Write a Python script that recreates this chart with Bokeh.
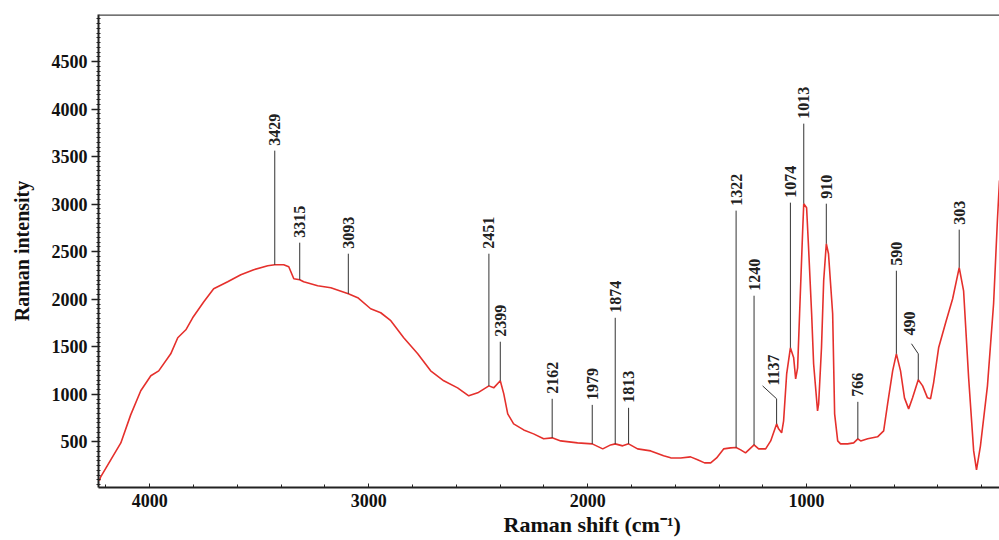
import numpy as np
from bokeh.plotting import figure
from bokeh.models import Range1d, SingleIntervalTicker, ColumnDataSource, Span, Title
from bokeh.core.properties import value
from bokeh.embed import file_html
from bokeh.resources import INLINE

# Raman spectrum (wavenumber in cm-1, intensity)
spec_wn = [4230, 4224, 4178, 4132, 4087, 4041, 3995, 3959, 3904, 3872, 3835, 3804, 3753, 3708,
           3644, 3584, 3525, 3461, 3429, 3388, 3365, 3342, 3315, 3297, 3233, 3173, 3093, 3050,
           2991, 2945, 2899, 2840, 2776, 2717, 2657, 2594, 2543, 2502, 2451, 2429, 2399, 2383,
           2365, 2338, 2292, 2247, 2201, 2162, 2123, 2046, 1979, 1931, 1895, 1874, 1840, 1813,
           1772, 1712, 1653, 1621, 1575, 1530, 1498, 1466, 1438, 1411, 1379, 1347, 1322, 1301,
           1279, 1240, 1219, 1187, 1164, 1137, 1128, 1114, 1105, 1091, 1074, 1059, 1050, 1041,
           1032, 1018, 1013, 1000, 991, 977, 968, 950, 945, 932, 922, 910, 900, 881, 872, 858,
           845, 813, 785, 766, 753, 721, 676, 648, 630, 607, 590, 571, 553, 534, 516, 490, 470,
           448, 434, 420, 397, 365, 333, 303, 283, 260, 237, 224, 206, 174, 146, 128, 119]
spec_int = [90, 132, 311, 489, 784, 1037, 1195, 1247, 1426, 1595, 1679, 1805, 1974, 2111,
            2184, 2258, 2310, 2352, 2363, 2363, 2342, 2216, 2205, 2184, 2142, 2121, 2058, 2016,
            1900, 1858, 1774, 1595, 1426, 1247, 1142, 1068, 984, 1016, 1089, 1068, 1142, 1005,
            795, 689, 626, 584, 532, 542, 510, 489, 479, 426, 468, 479, 458, 479,
            426, 405, 353, 332, 331, 342, 311, 279, 279, 331, 426, 437, 440, 416,
            384, 468, 426, 426, 510, 689, 637, 595, 721, 1216, 1489, 1384, 1163, 1279,
            1847, 2721, 3005, 2963, 2542, 1847, 1321, 826, 900, 1489, 2195, 2584, 2479, 1847, 795, 510,
            479, 479, 489, 532, 510, 532, 553, 616, 900, 1247, 1426, 1247, 963, 847, 963, 1153, 1089,
            963, 953, 1121, 1489, 1753, 2005, 2332, 2089, 1174, 405, 205, 458, 1089, 1953, 2858, 3250]

# Peak annotations
peak_wn = [3429, 3315, 3093, 2451, 2399, 2162, 1979, 1874, 1813, 1322, 1240, 1137, 1074, 1013,
           910, 766, 590, 490, 303]
peak_base = [2363, 2205, 2058, 1089, 1142, 542, 479, 479, 479, 440, 468, 689, 1489, 3005,
             2584, 532, 1426, 1153, 2332]
peak_top = [3563, 2595, 2479, 2479, 1553, 953, 889, 1805, 858, 2932, 2037, 953, 3016, 3847,
            3005, 921, 2300, 1426, 2732]
label_wn = [3429, 3315, 3093, 2451, 2399, 2162, 1979, 1874, 1813, 1322, 1240, 1150, 1074, 1013,
            910, 766, 590, 530, 303]
label_y = [3563, 2595, 2479, 2479, 1553, 953, 889, 1805, 858, 2932, 2037, 1040, 3016, 3847,
           3005, 921, 2300, 1567, 2732]
# bent leaders (from top of vertical stroke to label)
lead_wn0 = [1137, 490]
lead_y0 = [953, 1426]
lead_wn1 = [1201, 521]
lead_y1 = [1089, 1532]

y_ticks_interval = 500
x_ticks_interval = 1000

FONT = "Liberation Serif"

p = figure(width=999, height=540, output_backend="svg", toolbar_location=None,
           x_range=Range1d(4234, 119), y_range=Range1d(20, 4995),
           min_border_left=98, min_border_right=0, min_border_top=14, min_border_bottom=53)
p.outline_line_color = None
p.grid.grid_line_color = None
p.background_fill_color = "white"
p.border_fill_color = "white"

# axes
yax = p.yaxis[0]
yax.ticker = SingleIntervalTicker(interval=y_ticks_interval, num_minor_ticks=10)
yax.axis_label = "Raman intensity"
yax.axis_label_text_font = FONT
yax.axis_label_text_font_style = "bold"
yax.axis_label_text_font_size = "20px"
yax.axis_label_text_color = "#111111"
yax.axis_label_standoff = 16
yax.major_label_text_font = FONT
yax.major_label_text_font_style = "bold"
yax.major_label_text_font_size = "18px"
yax.major_label_text_color = "#111111"
yax.major_label_standoff = 4
yax.axis_line_width = 2
yax.axis_line_color = "#222222"
yax.major_tick_line_color = "#222222"
yax.major_tick_line_width = 1.5
yax.major_tick_out = 7
yax.major_tick_in = 0
yax.minor_tick_line_color = "#222222"
yax.minor_tick_line_width = 1
yax.minor_tick_out = 2
yax.minor_tick_in = 2

xax = p.xaxis[0]
xax.ticker = SingleIntervalTicker(interval=x_ticks_interval, num_minor_ticks=5)
xax.major_label_text_font = FONT
xax.major_label_text_font_style = "bold"
xax.major_label_text_font_size = "18px"
xax.major_label_text_color = "#111111"
xax.major_label_standoff = 6
xax.axis_line_width = 2
xax.axis_line_color = "#222222"
xax.major_tick_line_color = "#222222"
xax.major_tick_out = 0
xax.major_tick_in = 4
xax.minor_tick_line_color = "#222222"
xax.minor_tick_out = 0
xax.minor_tick_in = 3

p.add_layout(Span(location=4995, dimension="width", line_color="#444444", line_width=2.5))

# spectrum
p.line(spec_wn, spec_int, line_color="#e5302c", line_width=1.6)

# peak markers
p.segment(x0=peak_wn, y0=peak_base, x1=peak_wn, y1=peak_top, line_color="#333333", line_width=1)
p.segment(x0=lead_wn0, y0=lead_y0, x1=lead_wn1, y1=lead_y1, line_color="#333333", line_width=1)

src = ColumnDataSource(dict(x=label_wn, y=label_y, t=[str(v) for v in peak_wn]))
p.text(x="x", y="y", text="t", source=src, angle=np.pi / 2, text_align="left",
       text_baseline="middle", text_font=value(FONT), text_font_style="bold",
       text_font_size="16px", text_color="#222222", y_offset=-5)

xtitle = Title(text="Raman shift (cm⁻¹)", align="left", offset=405, standoff=0,
               text_font=FONT, text_font_style="bold", text_font_size="22px",
               text_color="#111111")
p.add_layout(xtitle, "below")

open("out.html", "w").write(file_html(p, INLINE))
